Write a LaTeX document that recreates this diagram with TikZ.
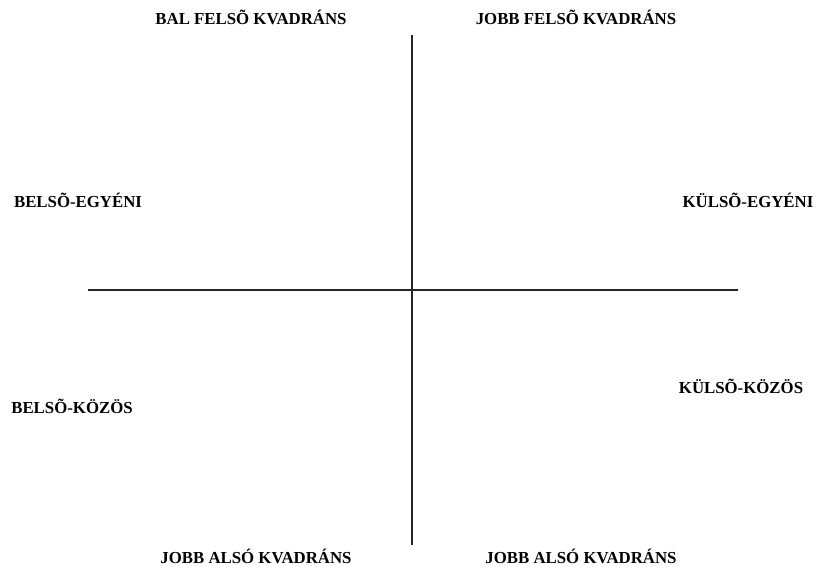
\documentclass[tikz,border=0pt]{standalone}
\usepackage{fontspec}
\setmainfont{Liberation Serif}
\usepackage{tikz}
\usetikzlibrary{positioning}

\begin{document}
\begin{tikzpicture}[
  x=1pt, y=-1pt,
  font=\bfseries\fontsize{16.8}{18}\selectfont,
  lbl/.style={inner sep=0pt, anchor=center},
  axis/.style={line width=1.3pt, black!85},
  dot/.style={circle, fill=black, minimum size=3.5pt, inner sep=0pt},
]
  \useasboundingbox (0,0) rectangle (818,566);

  % Axes
  \coordinate (top)    at (412,35);
  \coordinate (bottom) at (412,545);
  \coordinate (left)   at (88,290);
  \coordinate (right)  at (738,290);
  \node[dot] (origin) at (412,290) {};

  \draw[axis] (top) -- (bottom);
  \draw[axis] (left) -- (right);

  % Quadrant titles
  \node[lbl] (ul) at (251,17)  {BAL FELSÕ KVADRÁNS};
  \node[lbl] (ur) at (576,17)  {JOBB FELSÕ KVADRÁNS};
  \node[lbl] (ll) at (256,556) {JOBB ALSÓ KVADRÁNS};
  \node[lbl] (lr) at (581,556) {JOBB ALSÓ KVADRÁNS};

  % Side labels
  \node[lbl] (be) at (78,200)  {BELSÕ-EGYÉNI};
  \node[lbl] (ke) at (748,200) {KÜLSÕ-EGYÉNI};
  \node[lbl] (bk) at (72,406)  {BELSÕ-KÖZÖS};
  \node[lbl] (kk) at (741,386) {KÜLSÕ-KÖZÖS};
\end{tikzpicture}
\end{document}
